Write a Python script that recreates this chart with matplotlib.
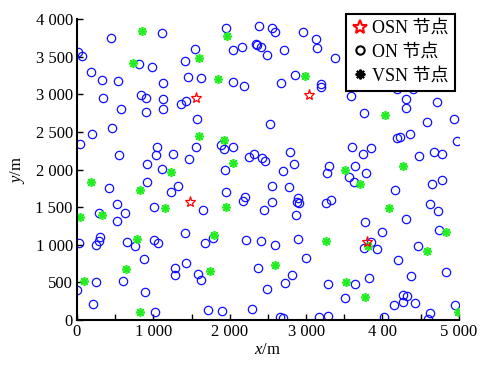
import numpy as np
import matplotlib
matplotlib.use("Agg")
import matplotlib.pyplot as plt
from matplotlib.lines import Line2D

plt.rcParams['font.family'] = ['Liberation Serif', 'Noto Sans CJK SC']
plt.rcParams['mathtext.fontset'] = 'custom'
plt.rcParams['mathtext.rm'] = 'Liberation Serif'
plt.rcParams['mathtext.it'] = 'Liberation Serif:italic'

# ON nodes (blue circles)
on_x = [449, 1108, 9, 70, 816, 982, 183, 332, 532, 1130, 1418, 1545, 1453, 1627,
        842, 903, 344, 576, 899, 1122, 1122, 1361, 1423, 1567, 462, 196, 39, 554,
        1051, 1038, 1257, 1466, 1558, 912, 1881, 1928, 2038, 2247, 2321, 2426, 2457,
        1954, 2046, 2156, 2038, 2190, 2387, 2339, 2360, 2412, 2483, 2526, 1933, 1108,
        2548, 2587, 2954, 3128, 3141, 2709, 3373, 2857, 2674, 3194, 3198, 3586, 3752,
        4311, 4311, 4708, 4935, 4577, 4363, 4185, 4228, 4974, 3599, 3852, 3739, 2792,
        2840, 4472, 4669, 4786, 3298, 3272, 3647, 2696, 3783, 4185, 4402,
        419, 916, 1226, 1318, 1950, 520, 624, 288, 520, 1008, 1653, 2199, 2169, 2448,
        2548, 2548, 1410, 26, 297, 284, 253, 658, 755, 1012, 1060, 1671, 1780, 2216,
        2408, 877, 1283, 1283, 1431, 1580, 1627, 2365, 598, 253, 0, 890, 2491, 205,
        1017, 1719, 1902, 2286,
        2771, 3560, 3626, 4166, 4646, 4777, 2893, 2875, 2910, 2862, 3255, 3320, 4624,
        4725, 4311, 3774, 3992, 4743, 2596, 2897, 3848, 3761, 3931, 4463, 3001, 4210,
        4838, 4372, 2814, 2723, 3285, 3647, 3818, 3516, 4153, 4271, 4319, 4267, 4420,
        4629, 4594, 4948, 2657, 2692, 3171, 3281, 4018]
on_y = [3751, 3813, 3564, 3507, 3400, 3356, 3297, 3191, 3182, 3156, 3440, 3600, 3227, 3213,
        2991, 2956, 2947, 2804, 2769, 2933, 2804, 2876, 2911, 2667, 2547, 2476, 2338, 2187,
        2302, 2196, 2209, 2138, 2302, 2071, 2329, 2276, 2293, 2160, 2200, 2151, 2111,
        3880, 3587, 3622, 3169, 3107, 3902, 3667, 3657, 3622, 3520, 2604, 1991, 2009,
        3876, 3822, 3822, 3729, 3613, 3587, 3480, 3253, 3147, 3138, 3102, 2977, 2747,
        2933, 2817, 2897, 2667, 2627, 2476, 2418, 2431, 2373, 2293, 2284, 2200, 2231,
        2080, 2178, 2231, 2200, 2044, 1960, 2053, 1982, 1960, 3076, 3076,
        1751, 1836, 1707, 1787, 1707, 1542, 1422, 1422, 1320, 1507, 1462, 1631, 1578, 1462,
        1564, 1778, 1156, 1018, 1098, 1049, 1000, 1036, 978, 1062, 1018, 1027, 1089, 1062,
        1053, 818, 689, 604, 760, 618, 538, 689, 524, 511, 396, 369, 418, 218,
        111, 138, 124, 151,
        1764, 1907, 1831, 1729, 1813, 1867, 1622, 1569, 1551, 1400, 1551, 1596, 1542,
        1444, 1338, 1298, 1164, 1191, 1000, 1076, 1031, 964, 947, 991, 827, 804,
        640, 591, 600, 498, 484, 484, 560, 293, 204, 236, 324, 338, 222,
        89, 9, 204, 44, 22, 44, 58, 36]

# VSN nodes (green asterisks)
vsn_x = [855, 737, 1593, 1846, 1963, 1593, 1924, 2038, 1234, 2988, 4035, 4271, 3508,
         188, 829, 1156, 1946, 39, 323, 785, 1789, 645, 1745, 88, 829, 3700, 4092,
         4833, 3263, 4581, 2596, 3521, 3774, 4983, 3805]
vsn_y = [3844, 3413, 3480, 3204, 3777, 2444, 2387, 2093, 1973, 3249, 2729, 2044, 2000,
         1831, 1724, 1493, 1507, 1364, 1391, 1076, 1133, 676, 653, 524, 102, 1809, 1484,
         1164, 1053, 920, 729, 511, 302, 102, 978]

# OSN nodes (red stars)
osn_x = [1558, 3040, 1475, 3796]
osn_y = [2951, 2996, 1569, 1044]

fig = plt.figure(figsize=(4.84, 3.65), dpi=100)
ax = fig.add_axes([0.159, 0.123, 0.789, 0.825])

green = '#22ee22'
ax.plot(on_x, on_y, 'o', ls='none', ms=6, mfc='none', mec='#1010ff', mew=0.9)
ax.plot(vsn_x, vsn_y, marker=(8, 2, 0), ls='none', ms=6.5, color=green, mew=1.2)
ax.plot(osn_x, osn_y, marker='*', ls='none', ms=8, mfc='none', mec='red', mew=0.9)

ax.set_xlim(0, 5000)
ax.set_ylim(0, 4000)
ax.set_xticks([0, 1000, 2000, 3000, 4000, 5000])
ax.set_xticklabels(['0', '1 000', '2 000', '3 000', '4 00', '5 000'])
ax.set_xticks(np.arange(500, 5000, 1000), minor=True)
yt = np.arange(0, 4001, 500)
ax.set_yticks(yt)
ax.set_yticklabels(['0', '500', '1 000', '1 500', '2 000', '2 500', '3 000', '3 500', '4 000'])
ax.tick_params(which='both', direction='in', length=4, width=1, labelsize=12, pad=3)
ax.spines['top'].set_visible(False)
ax.spines['right'].set_visible(False)
ax.spines['left'].set_linewidth(1.5)
ax.spines['bottom'].set_linewidth(1.5)

ax.set_xlabel('$x$/m', fontsize=12, labelpad=1)
ax.set_ylabel('$y$/m', fontsize=12, labelpad=6)

handles = [
    Line2D([], [], marker='*', ls='none', ms=10, mfc='none', mec='red', mew=1.5),
    Line2D([], [], marker='o', ls='none', ms=6, mfc='none', mec='black', mew=1.5),
    Line2D([], [], marker=(8, 2, 0), ls='none', ms=7, color='black', mew=1.5),
]
leg = ax.legend(handles, ['OSN 节点', 'ON 节点', 'VSN 节点'], loc='upper right',
                bbox_to_anchor=(0.99, 1.018), fontsize=13, frameon=True, fancybox=False,
                handlelength=0.8, handletextpad=0.3, borderpad=0.35, labelspacing=0.38,
                borderaxespad=0)
leg.get_frame().set_edgecolor('black')
leg.get_frame().set_linewidth(1.5)
leg.get_frame().set_alpha(1)

fig.savefig('out.png', dpi=100)
